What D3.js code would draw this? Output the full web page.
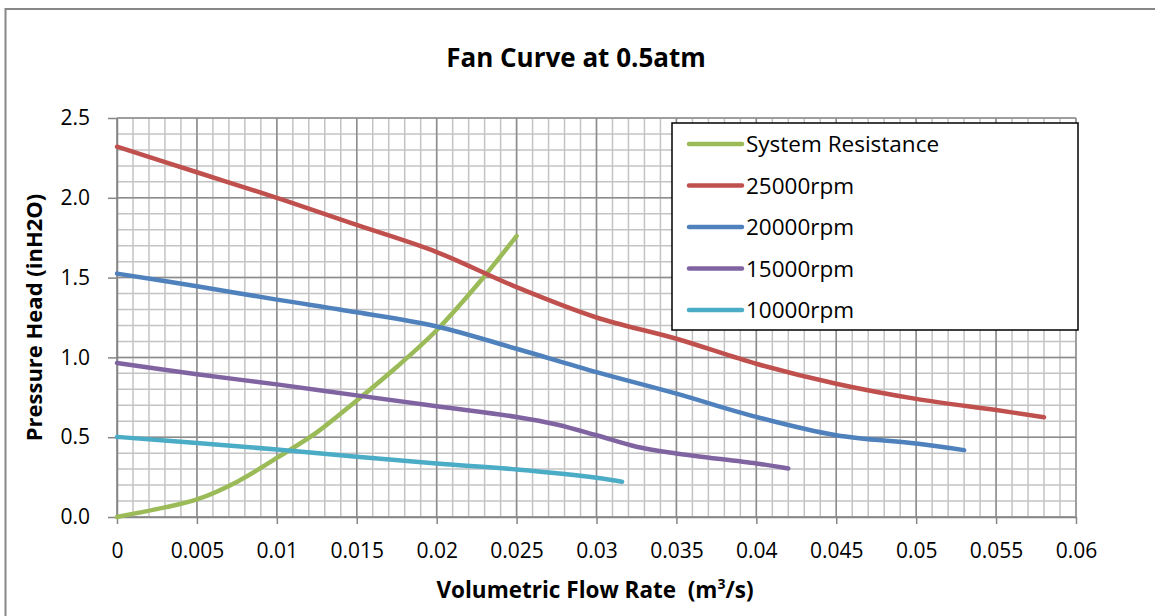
<!DOCTYPE html>
<html>
<head>
<meta charset="utf-8">
<script src="https://cdnjs.cloudflare.com/ajax/libs/d3/7.8.5/d3.min.js"></script>
<style>
  body { margin: 0; background: #fff; }
  text { font-family: "Open Sans", "Noto Sans", sans-serif; fill: #000; }
</style>
</head>
<body>
<div id="chart-area"></div>
<script>
// series data (flow m3/s, head inH2O)
const systemFlow = [0, 0.003, 0.005, 0.0075, 0.01, 0.0125, 0.015, 0.0175, 0.02, 0.0225, 0.025];
const systemHead = [0, 0.06, 0.11, 0.22, 0.37, 0.53, 0.73, 0.94, 1.17, 1.45, 1.76];

const rpm25Flow = [0, 0.005, 0.01, 0.015, 0.02, 0.025, 0.03, 0.035, 0.04, 0.045, 0.05, 0.055, 0.058];
const rpm25Head = [2.32, 2.16, 2.0, 1.83, 1.66, 1.44, 1.25, 1.117, 0.96, 0.835, 0.74, 0.67, 0.625];

const rpm20Flow = [0, 0.005, 0.01, 0.015, 0.02, 0.025, 0.03, 0.035, 0.04, 0.045, 0.05, 0.053];
const rpm20Head = [1.525, 1.446, 1.362, 1.283, 1.194, 1.054, 0.908, 0.773, 0.627, 0.512, 0.46, 0.419];

const rpm15Flow = [0, 0.005, 0.01, 0.015, 0.02, 0.025, 0.0275, 0.03, 0.0325, 0.035, 0.04, 0.042];
const rpm15Head = [0.965, 0.894, 0.831, 0.762, 0.694, 0.627, 0.58, 0.512, 0.44, 0.398, 0.335, 0.304];

const rpm10Flow = [0, 0.005, 0.01, 0.015, 0.02, 0.025, 0.03, 0.0316];
const rpm10Head = [0.502, 0.464, 0.423, 0.377, 0.335, 0.298, 0.246, 0.221];

const seriesNames = ['System Resistance', '25000rpm', '20000rpm', '15000rpm', '10000rpm'];
const seriesColors = ['#9bbb59', '#c0504d', '#4f81bd', '#8064a2', '#4bacc6'];

const xTicks = [0, 0.005, 0.01, 0.015, 0.02, 0.025, 0.03, 0.035, 0.04, 0.045, 0.05, 0.055, 0.06];
const yTicks = [0, 0.5, 1.0, 1.5, 2.0, 2.5];

const widthSvg = 1155;
const heightSvg = 616;
const margin = { top: 118, right: 79, bottom: 99, left: 117 };
const widthChart = widthSvg - margin.left - margin.right;
const heightChart = heightSvg - margin.top - margin.bottom;

const series = [
  [systemFlow, systemHead],
  [rpm25Flow, rpm25Head],
  [rpm20Flow, rpm20Head],
  [rpm15Flow, rpm15Head],
  [rpm10Flow, rpm10Head],
].map(([xs, ys], i) => ({
  name: seriesNames[i],
  color: seriesColors[i],
  values: xs.map((x, j) => ({ x, y: ys[j] })),
}));

const scaleX = d3.scaleLinear().domain([0, 0.06]).range([0, widthChart]);
const scaleY = d3.scaleLinear().domain([0, 2.5]).range([heightChart, 0]);

const svg = d3.select('#chart-area').append('svg')
  .attr('width', widthSvg)
  .attr('height', heightSvg);

// outer chart border (cropped on right and bottom)
svg.append('rect')
  .attr('x', 5.5).attr('y', 9)
  .attr('width', 1200).attr('height', 700)
  .attr('fill', 'none')
  .attr('stroke', '#878787')
  .attr('stroke-width', 2);

const chart = svg.append('g')
  .attr('transform', `translate(${margin.left}, ${margin.top})`);

// minor grid
const minorX = d3.range(0, 61).map(i => i * 0.001);
const minorY = d3.range(0, 26).map(i => i * 0.1);

chart.append('g').selectAll('line')
  .data(minorX)
  .join('line')
    .attr('x1', d => scaleX(d)).attr('x2', d => scaleX(d))
    .attr('y1', 0).attr('y2', heightChart)
    .attr('stroke', '#c3c3c3').attr('stroke-width', 1.5);

chart.append('g').selectAll('line')
  .data(minorY)
  .join('line')
    .attr('x1', 0).attr('x2', widthChart)
    .attr('y1', d => scaleY(d)).attr('y2', d => scaleY(d))
    .attr('stroke', '#c3c3c3').attr('stroke-width', 1.5);

// major grid
chart.append('g').selectAll('line')
  .data(xTicks)
  .join('line')
    .attr('x1', d => scaleX(d)).attr('x2', d => scaleX(d))
    .attr('y1', 0).attr('y2', heightChart)
    .attr('stroke', '#8c8c8c').attr('stroke-width', 1.5);

chart.append('g').selectAll('line')
  .data(yTicks)
  .join('line')
    .attr('x1', 0).attr('x2', widthChart)
    .attr('y1', d => scaleY(d)).attr('y2', d => scaleY(d))
    .attr('stroke', '#8c8c8c').attr('stroke-width', 1.5);

// axes
const axisX = d3.axisBottom(scaleX)
  .tickValues(xTicks)
  .tickFormat(d => d === 0 ? '0' : String(+d.toFixed(3)))
  .tickSizeInner(7).tickSizeOuter(0).tickPadding(19);

const axisY = d3.axisLeft(scaleY)
  .tickValues(yTicks)
  .tickFormat(d3.format('.1f'))
  .tickSizeInner(9).tickSizeOuter(0).tickPadding(18);

const axisGroupX = chart.append('g')
  .attr('transform', `translate(0, ${heightChart})`)
  .call(axisX);

const axisGroupY = chart.append('g')
  .call(axisY);

[axisGroupX, axisGroupY].forEach(g => {
  g.select('.domain').attr('stroke', '#868686').attr('stroke-width', 1.5);
  g.selectAll('.tick line').attr('stroke', '#868686').attr('stroke-width', 1.5);
  g.selectAll('.tick text')
    .attr('font-family', '"Open Sans", "Noto Sans", sans-serif')
    .attr('font-size', '21px')
    .attr('fill', '#000');
});

// series lines
const line = d3.line()
  .x(d => scaleX(d.x))
  .y(d => scaleY(d.y))
  .curve(d3.curveCatmullRom.alpha(0.5));

chart.append('g').selectAll('path')
  .data(series)
  .join('path')
    .attr('d', d => line(d.values))
    .attr('fill', 'none')
    .attr('stroke', d => d.color)
    .attr('stroke-width', 4.5)
    .attr('stroke-linecap', 'round')
    .attr('stroke-linejoin', 'round');

// legend
const legend = svg.append('g')
  .attr('transform', 'translate(672, 123)');

legend.append('rect')
  .attr('width', 406).attr('height', 207)
  .attr('fill', '#fff')
  .attr('stroke', '#000')
  .attr('stroke-width', 1.5);

const items = legend.selectAll('g.item')
  .data(series)
  .join('g')
    .attr('class', 'item')
    .attr('transform', (d, i) => `translate(0, ${21 + i * 41.5})`);

items.append('line')
  .attr('x1', 17).attr('x2', 70)
  .attr('stroke', d => d.color)
  .attr('stroke-width', 4.5)
  .attr('stroke-linecap', 'round');

items.append('text')
  .attr('x', 74)
  .attr('dy', '0.37em')
  .attr('font-size', '22.5px')
  .text(d => d.name);

// title and axis labels
svg.append('text')
  .text('Fan Curve at 0.5atm')
    .attr('x', 576).attr('y', 67)
    .attr('text-anchor', 'middle')
    .attr('font-size', '26px')
    .attr('font-weight', 'bold');

const labelX = svg.append('text')
  .attr('x', 595).attr('y', 598)
  .attr('text-anchor', 'middle')
  .attr('font-size', '22.5px')
  .attr('font-weight', 'bold');
labelX.append('tspan').text('Volumetric Flow Rate\u00a0\u00a0(m');
labelX.append('tspan').text('3').attr('font-size', '14px').attr('dy', '-9');
labelX.append('tspan').text('/s)').attr('dy', '9');

svg.append('text')
  .text('Pressure Head (inH2O)')
    .attr('transform', `translate(42, ${margin.top + heightChart / 2})rotate(-90)`)
    .attr('text-anchor', 'middle')
    .attr('font-size', '22px')
    .attr('font-weight', 'bold');
</script>
</body>
</html>
